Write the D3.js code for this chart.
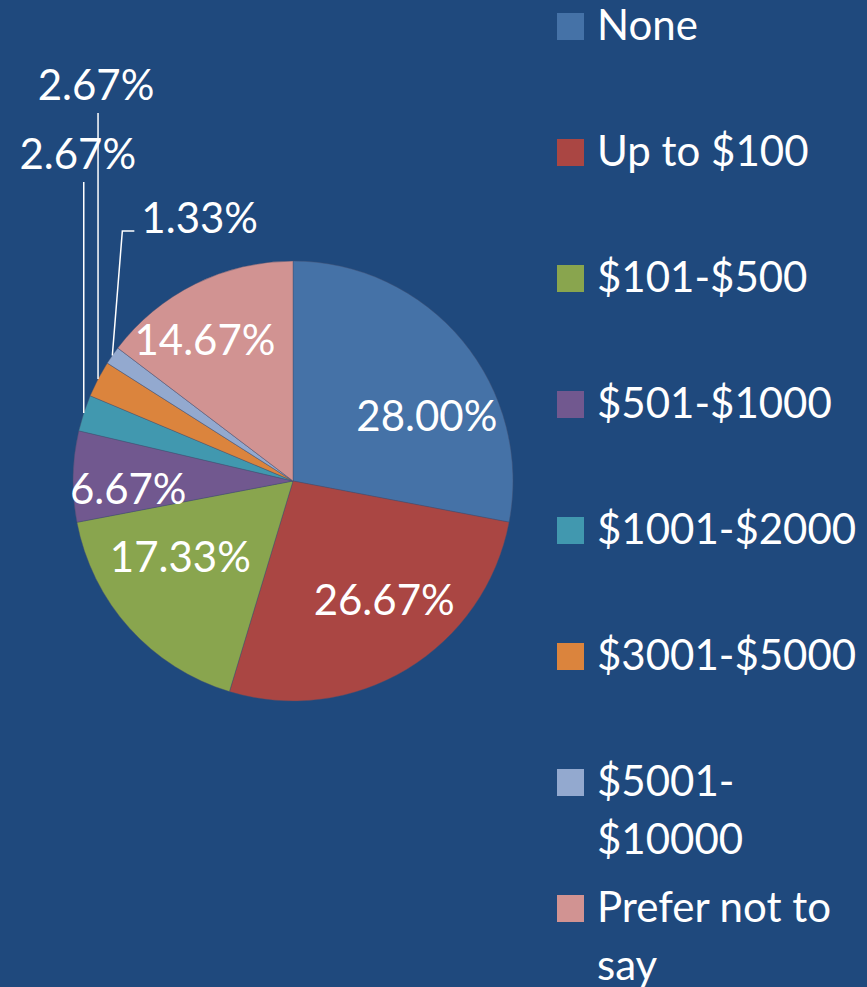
<!DOCTYPE html>
<html>
<head>
<meta charset="utf-8">
<script src="https://cdn.jsdelivr.net/npm/d3@7"></script>
<style>
  html, body { margin: 0; padding: 0; background: #1F497D; }
  svg { display: block; }
  text { font-family: Lato, "Open Sans", sans-serif; fill: #ffffff; }
</style>
</head>
<body>
<svg id="chart" width="867" height="987"></svg>
<script>
// ---- Data ----
const categories = ["None", "Up to $100", "$101-$500", "$501-$1000", "$1001-$2000", "$3001-$5000", "$5001-$10000", "Prefer not to say"];
const values = [28.00, 26.67, 17.33, 6.67, 2.67, 2.67, 1.33, 14.67];
const labels = ["28.00%", "26.67%", "17.33%", "6.67%", "2.67%", "2.67%", "1.33%", "14.67%"];

// ---- Style / layout ----
const colors = ["#4572A7", "#AA4643", "#89A54E", "#71588F", "#4198AF", "#DB843D", "#93A9CF", "#D19392"];
// label placement: inside labels in polar offsets from slice mid, outside with leader lines
const labelLayout = [
  { mode: "in", r: 0.677, dA: 13.6 },
  { mode: "in", r: 0.682, dA: -6.2 },
  { mode: "in", r: 0.618, dA: 8 },
  { mode: "in", r: 0.75, dA: -4 },
  { mode: "up", top: 182, dx: -6 },
  { mode: "up", top: 113, dx: -2 },
  { mode: "elbow", elbowY: 231, elbowDx: 10, tail: 12 },
  { mode: "in", r: 0.755, dA: -5.6 }
];

const W = 867, H = 987;
const cx = 293, cy = 481, R = 220;
const fontSize = 42;

const svg = d3.select("#chart");
svg.append("rect").attr("width", W).attr("height", H).attr("fill", "#1F497D");

const pie = d3.pie().sort(null).value(d => d.v);
const data = categories.map((c, i) => ({ c, v: values[i], i }));
const arcs = pie(data);
const arc = d3.arc().innerRadius(0).outerRadius(R);

const g = svg.append("g").attr("transform", `translate(${cx},${cy})`);
g.selectAll("path.slice").data(arcs).join("path")
  .attr("class", "slice")
  .attr("d", arc)
  .attr("fill", d => colors[d.data.i])
  .attr("stroke", "rgba(70,80,110,0.6)")
  .attr("stroke-width", 0.7);

const polar = (a, r) => [r * Math.sin(a), -r * Math.cos(a)];

arcs.forEach((d, k) => {
  const L = labelLayout[k];
  const mid = (d.startAngle + d.endAngle) / 2;
  if (L.mode === "in") {
    const [x, y] = polar(mid + L.dA * Math.PI / 180, R * L.r);
    g.append("text").attr("x", x).attr("y", y).attr("dy", "0.36em")
      .attr("text-anchor", "middle").attr("font-size", fontSize).text(labels[k]);
  } else if (L.mode === "up") {
    const [x, y] = polar(mid, R);
    g.append("line").attr("x1", x).attr("y1", y).attr("x2", x).attr("y2", L.top - cy)
      .attr("stroke", "#fff").attr("stroke-width", 1.5);
    g.append("text").attr("x", x + L.dx).attr("y", L.top - cy - 13)
      .attr("text-anchor", "middle").attr("font-size", fontSize).text(labels[k]);
  } else {
    const [x, y] = polar(mid, R);
    const ex = x + L.elbowDx, ey = L.elbowY - cy;
    g.append("polyline")
      .attr("points", [[x, y], [ex, ey], [ex + L.tail, ey]].map(p => p.join(",")).join(" "))
      .attr("fill", "none").attr("stroke", "#fff").attr("stroke-width", 1.5);
    g.append("text").attr("x", ex + L.tail + 7).attr("y", ey + 2)
      .attr("text-anchor", "start").attr("font-size", fontSize).text(labels[k]);
  }
});

// ---- Legend ----
const legX = 557, legTextX = 597, legFirstBase = 40, legStep = 126, sw = 27;
const lineH = 58, maxW = 264;
const leg = svg.append("g");
categories.forEach((c, i) => {
  const base = legFirstBase + i * legStep;
  leg.append("rect").attr("x", legX).attr("y", base - sw).attr("width", sw).attr("height", sw)
    .attr("fill", colors[i]);
  const t = leg.append("text").attr("x", legTextX).attr("y", base).attr("font-size", fontSize);
  // wrap words (and after hyphen)
  const tokens = c.split(/(?<=[ -])/);
  let line = "", lines = [];
  const probe = t.append("tspan");
  tokens.forEach(tok => {
    const test = line + tok;
    probe.text(test.trimEnd());
    if (probe.node().getComputedTextLength() > maxW && line) {
      lines.push(line.trimEnd());
      line = tok;
    } else line = test;
  });
  lines.push(line.trimEnd());
  probe.remove();
  lines.forEach((ln, j) => {
    t.append("tspan").attr("x", legTextX).attr("y", base + j * lineH).text(ln);
  });
});
</script>
</body>
</html>
